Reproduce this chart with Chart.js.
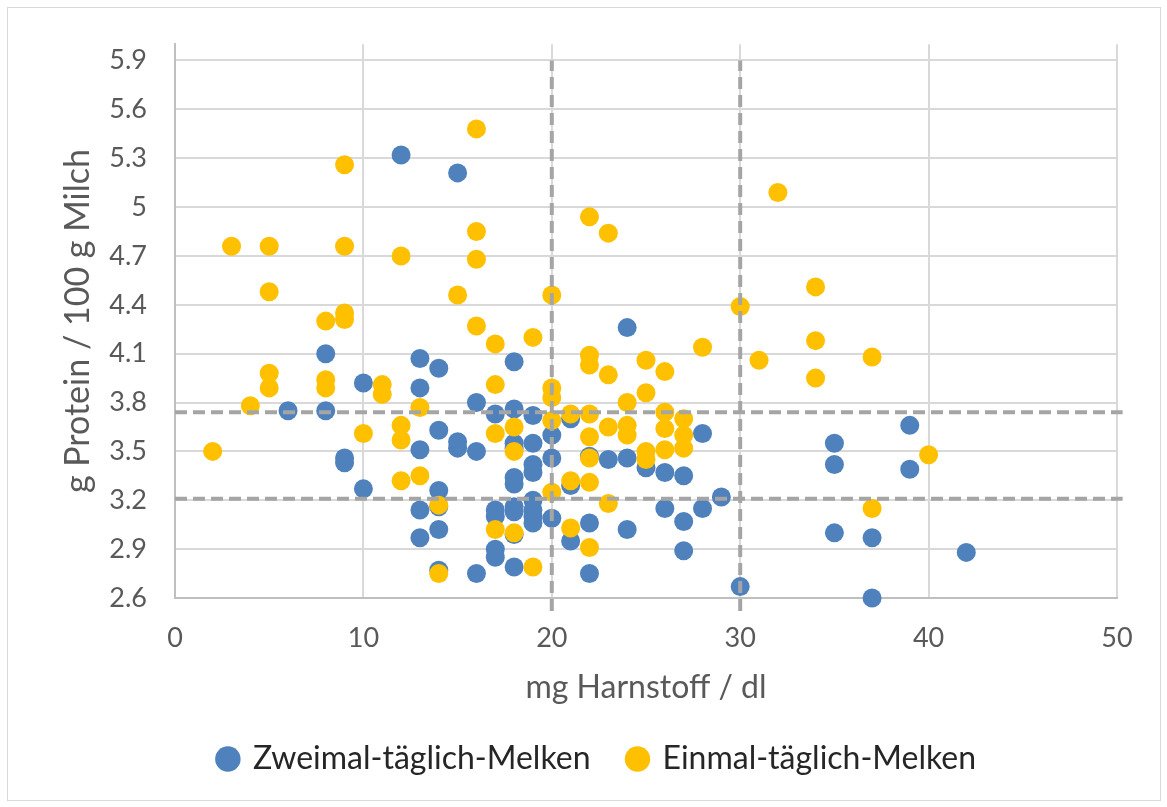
<!DOCTYPE html>
<html>
<head>
<meta charset="utf-8">
<script src="https://cdn.jsdelivr.net/npm/chart.js@4"></script>
<style>
  html, body { margin: 0; padding: 0; background: #fff; }
  #wrap { position: relative; width: 1167px; height: 807px; }
  #frame { position: absolute; left: 7px; top: 7px; right: 6px; bottom: 6px; border: 1px solid #d9d9d9; pointer-events: none; }
</style>
</head>
<body>
<div id="wrap">
  <canvas id="myChart" width="1167" height="807"></canvas>
  <div id="frame"></div>
</div>
<script>
// Zweimal-täglich-Melken (blau)
const zweimalX = [6, 8, 8, 9, 9, 10, 10, 12, 13, 13, 13, 13, 13, 14, 14, 14, 14, 14, 14, 15, 15, 15, 16, 16, 16,
  17, 17, 17, 17, 17, 18, 18, 18, 18, 18, 18, 18, 18, 18, 18, 19, 19, 19, 19, 19, 19, 19, 19,
  20, 20, 20, 21, 21, 21, 22, 22, 22, 23, 24, 24, 24, 25, 26, 26, 27, 27, 27, 28, 28, 29, 30,
  35, 35, 35, 37, 37, 39, 39, 42];
const zweimalY = [3.75, 4.10, 3.75, 3.46, 3.43, 3.92, 3.27, 5.32, 4.07, 3.89, 3.51, 3.14, 2.97, 4.01, 3.63, 3.26, 3.16, 3.02, 2.77, 5.21, 3.56, 3.52, 3.80, 3.50, 2.75,
  3.73, 3.14, 3.10, 2.90, 2.85, 4.05, 3.76, 3.55, 3.52, 3.34, 3.30, 3.16, 3.13, 2.99, 2.79, 3.72, 3.55, 3.42, 3.37, 3.20, 3.14, 3.10, 3.06,
  3.60, 3.46, 3.09, 3.70, 3.29, 2.95, 3.47, 3.06, 2.75, 3.45, 4.26, 3.46, 3.02, 3.40, 3.37, 3.15, 3.35, 3.07, 2.89, 3.61, 3.15, 3.22, 2.67,
  3.55, 3.42, 3.00, 2.97, 2.60, 3.66, 3.39, 2.88];

// Einmal-täglich-Melken (gelb)
const einmalX = [2, 3, 4, 5, 5, 5, 5, 8, 8, 8, 9, 9, 9, 9, 10, 11, 11, 12, 12, 12, 12, 13, 13, 14, 14, 15,
  16, 16, 16, 16, 17, 17, 17, 17, 18, 18, 18, 19, 19, 20, 20, 20, 20, 20, 21, 21, 21,
  22, 22, 22, 22, 22, 22, 22, 22, 23, 23, 23, 23, 24, 24, 24, 25, 25, 25, 25, 26, 26, 26, 26,
  27, 27, 27, 28, 30, 31, 32, 34, 34, 34, 37, 37, 40];
const einmalY = [3.50, 4.76, 3.78, 4.76, 4.48, 3.98, 3.89, 4.30, 3.94, 3.89, 5.26, 4.76, 4.35, 4.31, 3.61, 3.91, 3.85, 4.70, 3.66, 3.57, 3.32, 3.77, 3.35, 3.17, 2.75, 4.46,
  5.48, 4.85, 4.68, 4.27, 4.16, 3.91, 3.61, 3.02, 3.65, 3.50, 3.00, 4.20, 2.79, 4.46, 3.89, 3.83, 3.69, 3.25, 3.73, 3.32, 3.03,
  4.94, 4.09, 4.03, 3.73, 3.59, 3.46, 3.31, 2.91, 4.84, 3.97, 3.65, 3.18, 3.80, 3.66, 3.60, 4.06, 3.86, 3.50, 3.45, 3.99, 3.74, 3.64, 3.51,
  3.70, 3.60, 3.52, 4.14, 4.39, 4.06, 5.09, 4.51, 4.18, 3.95, 4.08, 3.15, 3.48];

// Grenzlinien
const refX = [20, 30];
const refY = [3.74, 3.21];

const yTicks = [2.6, 2.9, 3.2, 3.5, 3.8, 4.1, 4.4, 4.7, 5, 5.3, 5.6, 5.9];

const toPoints = (xs, ys) => xs.map((x, i) => ({ x: x, y: ys[i] }));

const FONT = 'Lato, "Open Sans", sans-serif';
const dashStyle = {
  type: 'line', showLine: true, pointRadius: 0, borderColor: '#a5a5a5', borderWidth: 4,
  borderDash: [12, 6], fill: false, clip: false, order: 0
};

const datasets = [
  {
    label: 'Zweimal-täglich-Melken',
    data: toPoints(zweimalX, zweimalY),
    backgroundColor: '#4f81bd',
    borderColor: '#4f81bd',
    pointRadius: 9.5,
    borderWidth: 0,
    clip: false,
    order: 2
  },
  {
    label: 'Einmal-täglich-Melken',
    data: toPoints(einmalX, einmalY),
    backgroundColor: '#ffc000',
    borderColor: '#ffc000',
    pointRadius: 9.5,
    borderWidth: 0,
    clip: false,
    order: 1
  }
];
refX.forEach(v => datasets.push(Object.assign({ data: [{ x: v, y: 2.52 }, { x: v, y: 5.9 }] }, dashStyle)));
refY.forEach(v => datasets.push(Object.assign({ data: [{ x: 0, y: v }, { x: 50.3, y: v }] }, dashStyle)));

const ctx = document.getElementById('myChart').getContext('2d');

new Chart(ctx, {
  type: 'scatter',
  data: { datasets: datasets },
  options: {
    responsive: false,
    animation: false,
    layout: { padding: { left: 78, right: 50, top: 44, bottom: 22 } },
    plugins: {
      tooltip: { enabled: false },
      legend: {
        position: 'bottom',
        labels: {
          usePointStyle: true,
          pointStyle: 'circle',
          boxWidth: 18,
          boxHeight: 18,
          padding: 38,
          color: '#262626',
          font: { family: FONT, size: 32 },
          filter: item => item.datasetIndex < 2,
          sort: (a, b) => a.datasetIndex - b.datasetIndex
        }
      }
    },
    scales: {
      x: {
        type: 'linear',
        min: 0,
        max: 50,
        ticks: { stepSize: 10, padding: 24, color: '#595959', font: { family: FONT, size: 27 } },
        grid: { color: '#d9d9d9', lineWidth: 2, drawTicks: false },
        border: { color: '#bfbfbf', width: 2 },
        title: { display: true, text: 'mg Harnstoff / dl', color: '#595959', font: { family: FONT, size: 32 }, padding: { top: 0, bottom: -2 } },
        afterFit: scale => { scale.height = 107; }
      },
      y: {
        type: 'linear',
        min: 2.6,
        max: 6.0,
        afterBuildTicks: scale => { scale.ticks = yTicks.map(v => ({ value: v })); },
        ticks: { padding: 28, color: '#595959', font: { family: FONT, size: 27 }, callback: v => String(v) },
        grid: { color: '#d9d9d9', lineWidth: 2, drawTicks: false },
        border: { color: '#bfbfbf', width: 2 },
        title: { display: true, text: 'g Protein / 100 g Milch', color: '#595959', font: { family: FONT, size: 34 }, padding: { top: -20, bottom: 0 } },
        afterFit: scale => { scale.width = 97; }
      }
    }
  }
});
</script>
</body>
</html>
